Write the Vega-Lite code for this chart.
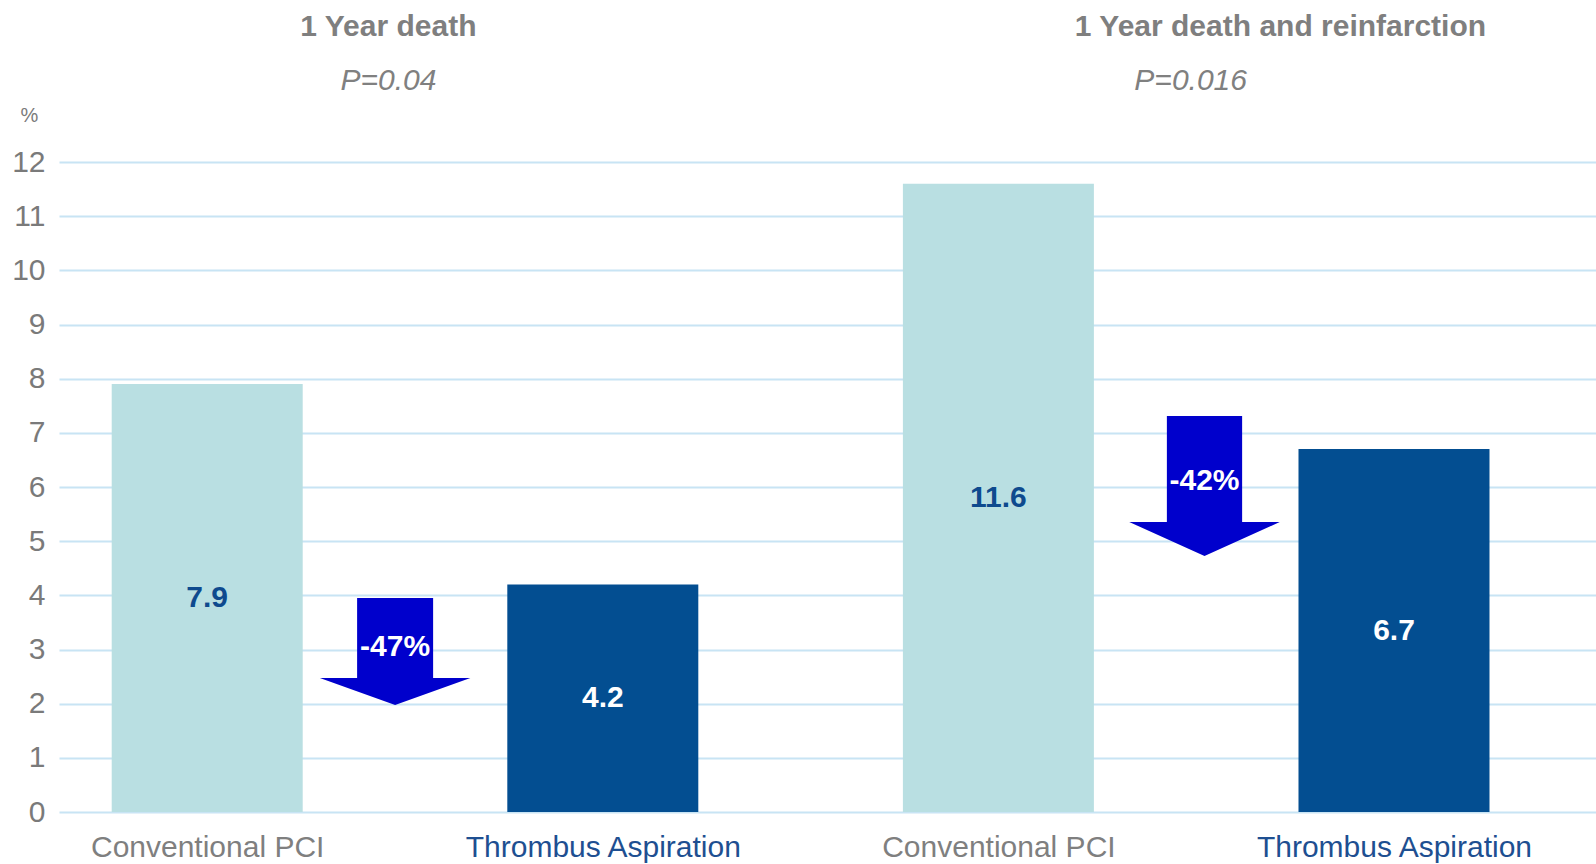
{
  "$schema": "https://vega.github.io/schema/vega-lite/v6.json",
  "width": 1537,
  "height": 650,
  "autosize": {"type": "none"},
  "padding": {"left": 59, "top": 162, "right": 0, "bottom": 52},
  "background": "white",
  "config": {
    "view": {"stroke": null},
    "font": "Liberation Sans",
    "axisX": {
      "grid": false, "domain": false, "ticks": false, "tickSize": 0,
      "labelFontSize": 30, "labelPadding": 20, "labelFont": "Liberation Sans",
      "labelFlush": false, "labelOverlap": false, "labelLimit": 0
    },
    "axisY": {
      "grid": true, "gridColor": "#c8e4f4", "gridWidth": 2,
      "domain": false, "ticks": false, "tickSize": 0,
      "labelFontSize": 30, "labelColor": "#7a7a7a", "labelPadding": 14,
      "labelFont": "Liberation Sans", "labelLimit": 0,
      "titleAngle": 0, "titleAlign": "center", "titleBaseline": "middle",
      "titleX": -30, "titleY": -47, "titleFontSize": 20, "titleFontWeight": "normal",
      "titleColor": "#7a7a7a", "titleFont": "Liberation Sans"
    }
  },
  "datasets": {
    "bars": [
      {"outcome": "1 Year death", "treatment": "Conventional PCI", "pos": 1, "value": 7.9},
      {"outcome": "1 Year death", "treatment": "Thrombus Aspiration", "pos": 2, "value": 4.2},
      {"outcome": "1 Year death and reinfarction", "treatment": "Conventional PCI", "pos": 3, "value": 11.6},
      {"outcome": "1 Year death and reinfarction", "treatment": "Thrombus Aspiration", "pos": 4, "value": 6.7}
    ],
    "titles": [
      {"text": "1 Year  death and reinfarction", "pos": 3.713, "y": 14.5},
      {"text": "1 Year death", "pos": 1.458, "y": 14.5}
    ],
    "pvalues": [
      {"text": "P=0.04", "pos": 1.458, "y": 13.49},
      {"text": "P=0.016", "pos": 3.486, "y": 13.49}
    ],
    "arrows": [
      {"arrow": "a", "change": "-47%", "pos": 1.475, "y": 2.963},
      {"arrow": "b", "change": "-42%", "pos": 3.521, "y": 6.018}
    ]
  },
  "layer": [
    {
      "data": {"name": "bars"},
      "mark": {"type": "bar", "width": 191, "orient": "vertical"},
      "encoding": {
        "x": {
          "field": "pos", "type": "quantitative", "title": null,
          "scale": {"domain": [0.638, 4.498], "nice": false, "zero": false},
          "axis": {
            "values": [1, 2, 3, 4],
            "labelExpr": "datum.value % 2 == 1 ? 'Conventional PCI' : 'Thrombus Aspiration'",
            "labelColor": {"condition": {"test": "datum.value % 2 == 0", "value": "#1e4f91"}, "value": "#7f7f7f"}
          }
        },
        "y": {
          "field": "value", "type": "quantitative", "stack": null, "title": "%",
          "scale": {"domain": [0, 12], "nice": false},
          "axis": {"values": [0, 1, 2, 3, 4, 5, 6, 7, 8, 9, 10, 11, 12], "format": "d"}
        },
        "color": {
          "field": "treatment", "type": "nominal",
          "scale": {"domain": ["Conventional PCI", "Thrombus Aspiration"], "range": ["#b9dfe2", "#034e91"]},
          "legend": null
        }
      }
    },
    {
      "data": {"name": "bars"},
      "mark": {"type": "text", "fontSize": 30, "fontWeight": "bold", "baseline": "middle", "align": "center"},
      "encoding": {
        "x": {"field": "pos", "type": "quantitative", "title": null, "scale": {"domain": [0.638, 4.498], "nice": false, "zero": false}},
        "y": {"field": "value", "type": "quantitative", "title": "%", "stack": "zero", "bandPosition": 0.5, "scale": {"domain": [0, 12], "nice": false}, "axis": {"format": "d"}},
        "text": {"field": "value", "type": "quantitative", "format": ".1f"},
        "color": {"condition": {"test": "datum.treatment == 'Thrombus Aspiration'", "value": "white"}, "value": "#0e4a8e"}
      }
    },
    {
      "data": {"name": "arrows"},
      "mark": {"type": "point", "filled": true, "size": 22650, "opacity": 1, "color": "#0000cc", "strokeWidth": 0},
      "encoding": {
        "x": {"field": "pos", "type": "quantitative", "title": null, "scale": {"domain": [0.638, 4.498], "nice": false, "zero": false}},
        "y": {"field": "y", "type": "quantitative", "title": "%", "scale": {"domain": [0, 12], "nice": false}},
        "shape": {
          "field": "arrow", "type": "nominal",
          "scale": {"domain": ["a", "b"], "range": [
            "M-0.505,-0.711L0.505,-0.711L0.505,0.352L1,0.352L0,0.711L-1,0.352L-0.505,0.352Z",
            "M-0.5,-0.93L0.5,-0.93L0.5,0.478L1,0.478L0,0.93L-1,0.478L-0.5,0.478Z"
          ]},
          "legend": null
        }
      }
    },
    {
      "data": {"name": "arrows"},
      "mark": {"type": "text", "fontSize": 30, "fontWeight": "bold", "color": "white", "baseline": "middle", "align": "center", "dy": -5},
      "encoding": {
        "x": {"field": "pos", "type": "quantitative", "title": null, "scale": {"domain": [0.638, 4.498], "nice": false, "zero": false}},
        "y": {"field": "y", "type": "quantitative", "title": "%", "scale": {"domain": [0, 12], "nice": false}},
        "text": {"field": "change"}
      }
    },
    {
      "data": {"name": "titles"},
      "mark": {"type": "text", "fontSize": 30, "fontWeight": "bold", "color": "#7f7f7f", "baseline": "middle", "align": "center"},
      "encoding": {
        "x": {"field": "pos", "type": "quantitative", "title": null, "scale": {"domain": [0.638, 4.498], "nice": false, "zero": false}},
        "y": {"field": "y", "type": "quantitative", "title": "%", "scale": {"domain": [0, 12], "nice": false}},
        "text": {"field": "text"}
      }
    },
    {
      "data": {"name": "pvalues"},
      "mark": {"type": "text", "fontSize": 30, "fontStyle": "italic", "color": "#808080", "baseline": "middle", "align": "center"},
      "encoding": {
        "x": {"field": "pos", "type": "quantitative", "title": null, "scale": {"domain": [0.638, 4.498], "nice": false, "zero": false}},
        "y": {"field": "y", "type": "quantitative", "title": "%", "scale": {"domain": [0, 12], "nice": false}},
        "text": {"field": "text"}
      }
    }
  ]
}
